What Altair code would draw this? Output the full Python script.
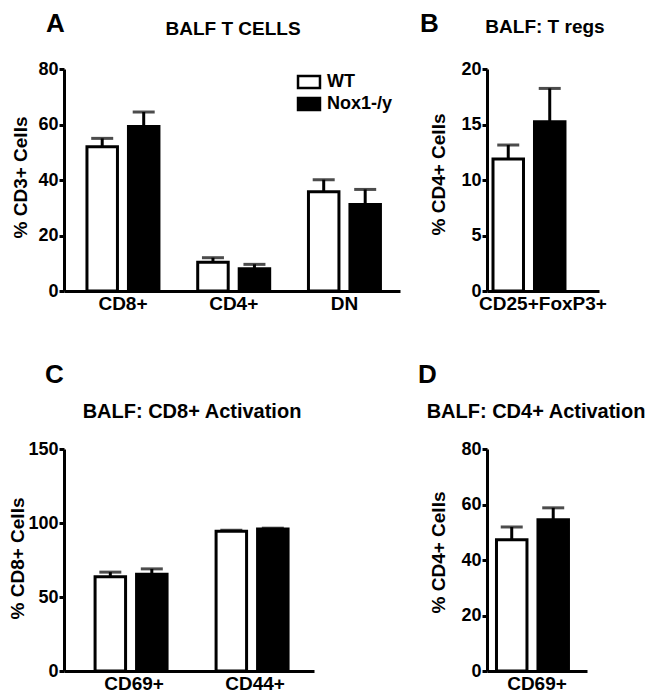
import altair as alt
import pandas as pd

FONT = "Liberation Sans"
genotypes = ["WT", "Nox1-/y"]

# Panel A: BALF T cells
cats_A = ["CD8+", "CD4+", "DN"]
wt_A = [52.0, 10.4, 35.8]
wt_A_sem = [3.0, 1.6, 4.3]
nox_A = [59.3, 8.0, 31.2]
nox_A_sem = [5.2, 1.6, 5.4]

# Panel B: T regs
cats_B = ["CD25+FoxP3+"]
wt_B = [11.9]
wt_B_sem = [1.25]
nox_B = [15.25]
nox_B_sem = [3.0]

# Panel C: CD8+ activation
cats_C = ["CD69+", "CD44+"]
wt_C = [63.7, 94.5]
wt_C_sem = [3.1, 0.6]
nox_C = [65.3, 96.0]
nox_C_sem = [3.7, 0.5]

# Panel D: CD4+ activation
cats_D = ["CD69+"]
wt_D = [47.3]
wt_D_sem = [4.6]
nox_D = [54.5]
nox_D_sem = [4.3]


def make_df(cats, wt, wt_sem, nox, nox_sem):
    rows = []
    for c, m, s in zip(cats, wt, wt_sem):
        rows.append({"category": c, "genotype": "WT", "mean": m, "upper": m + s})
    for c, m, s in zip(cats, nox, nox_sem):
        rows.append({"category": c, "genotype": "Nox1-/y", "mean": m, "upper": m + s})
    return pd.DataFrame(rows)


def panel(df, cats, ymax, yticks, ytitle, width, pin, pout, palign, opin,
          letter, lx, ly, title, tx, ty, tsize, ytx, yty, legend=None):
    xenc = alt.X("category:N", sort=cats,
                 scale=alt.Scale(paddingInner=pin, paddingOuter=pout, align=palign),
                 axis=alt.Axis(title=None, ticks=False, labelAngle=0, labelFontSize=19,
                               labelPadding=3))
    xoff = alt.XOffset("genotype:N", sort=genotypes,
                       scale=alt.Scale(paddingInner=opin, paddingOuter=0))
    yscale = alt.Scale(domain=[0, ymax], nice=False)
    yaxis = alt.Axis(values=yticks, title=ytitle, titleX=ytx, titleY=yty,
                     titleBaseline="alphabetic", titleAlign="center")
    base = alt.Chart(df)
    bars = base.mark_bar(stroke="black", strokeWidth=3).encode(
        x=xenc, xOffset=xoff,
        y=alt.Y("mean:Q", scale=yscale, axis=yaxis),
        color=alt.Color("genotype:N", scale=alt.Scale(domain=genotypes, range=["white", "black"]),
                        legend=legend),
    )
    err = base.mark_rule(color="black", strokeWidth=3).encode(
        x=xenc, xOffset=xoff, y=alt.Y("mean:Q", scale=yscale, axis=yaxis), y2="upper:Q")
    cap = base.mark_tick(color="black", thickness=3, size=22).encode(
        x=xenc, xOffset=xoff, y=alt.Y("upper:Q", scale=yscale, axis=yaxis))
    let = alt.Chart(pd.DataFrame({"t": [letter]})).mark_text(
        font=FONT, fontSize=26, fontWeight="bold", align="left", baseline="alphabetic",
        color="black").encode(text="t:N", x=alt.value(lx), y=alt.value(ly))
    tit = alt.Chart(pd.DataFrame({"t": [title]})).mark_text(
        font=FONT, fontSize=tsize, fontWeight="bold", align="center", baseline="alphabetic",
        color="black").encode(text="t:N", x=alt.value(tx), y=alt.value(ty))
    return alt.layer(bars, err, cap, let, tit).properties(width=width, height=222)


legend_A = alt.Legend(title=None, orient="none", legendX=236, legendY=4,
                      symbolType="M-1.83,-1H1.83V1H-1.83Z", symbolSize=144,
                      symbolStrokeColor="black", symbolStrokeWidth=2.5, symbolOpacity=1,
                      labelFont=FONT, labelFontSize=18, labelFontWeight="bold",
                      labelColor="black", labelOffset=9, rowPadding=0, padding=0)

A = panel(make_df(cats_A, wt_A, wt_A_sem, nox_A, nox_A_sem), cats_A, 80, [0, 20, 40, 60, 80],
          "% CD3+ Cells", 336, 0.35, 0.192, 0.54, 0.265,
          "A", -18, -37, "BALF T CELLS", 169, -34, 19, -38, 108, legend=legend_A)
B = panel(make_df(cats_B, wt_B, wt_B_sem, nox_B, nox_B_sem), cats_B, 20, [0, 5, 10, 15, 20],
          "% CD4+ Cells", 112, 0.0, 0.06, 0.5, 0.276,
          "B", -67, -37, "BALF: T regs", 58, -36, 19, -43, 105)
C = panel(make_df(cats_C, wt_C, wt_C_sem, nox_C, nox_C_sem), cats_C, 150, [0, 50, 100, 150],
          "% CD8+ Cells", 250, 0.355, 0.2105, 0.61, 0.304,
          "C", -19, -66, "BALF: CD8+ Activation", 128, -31, 20, -41, 109)
D = panel(make_df(cats_D, wt_D, wt_D_sem, nox_D, nox_D_sem), cats_D, 80, [0, 20, 40, 60, 80],
          "% CD4+ Cells", 100, 0.0, 0.117, 0.5, 0.277,
          "D", -69, -66, "BALF: CD4+ Activation", 49, -31, 20, -43, 103)

chart = alt.concat(A, B, C, D, columns=2, spacing={"row": 158, "column": 87}, bounds="flush").resolve_scale(
    color="independent").resolve_legend(color="independent").properties(
    padding={"left": 0, "top": 3, "right": 0, "bottom": 0}
).configure_view(stroke=None).configure_axis(
    domainColor="black", domainWidth=3, tickColor="black", tickWidth=3, tickSize=5,
    labelColor="black", labelFont=FONT, labelFontWeight="bold", labelFontSize=18, labelPadding=1,
    titleColor="black", titleFont=FONT, titleFontWeight="bold", titleFontSize=19, grid=False
)

chart.save("out.html", embed_options={"renderer": "svg", "actions": False})
